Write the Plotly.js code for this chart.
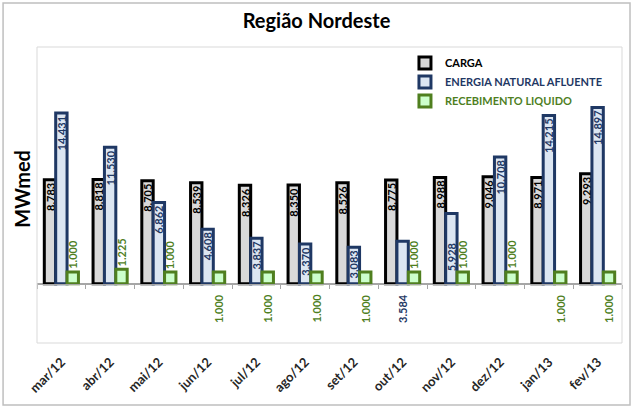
<!DOCTYPE html>
<html>
<head>
<meta charset="utf-8">
<script src="https://cdn.plot.ly/plotly-3.0.1.min.js"></script>
<style>
  body { margin: 0; background: #fff; }
  #chart { width: 633px; height: 410px; }
</style>
</head>
<body>
<div id="chart"></div>
<script>
let months = ['mar/12','abr/12','mai/12','jun/12','jul/12','ago/12','set/12','out/12','nov/12','dez/12','jan/13','fev/13']
let carga  = [8783, 8818, 8705, 8539, 8326, 8350, 8526, 8775, 8988, 9046, 8971, 9293]
let ena    = [14431, 11530, 6862, 4608, 3837, 3370, 3083, 3584, 5928, 10708, 14215, 14897]
let receb  = [1000, 1225, 1000, 1000, 1000, 1000, 1000, 1000, 1000, 1000, 1000, 1000]

// where the labels sit in the original (excel moved some of them around)
let recebLabelPos = ['above','above','above','below','below','below','below','above','above','above','below','below']
let enaLabelPos   = ['top','top','top','top','top','top','top','below','base','top','top','top']

let font = 'Lato, "Open Sans", sans-serif'
let cBlack = '#000000', cBlue = '#1f3864', cGreen = '#4f7f1f'

let fmt = v => v.toLocaleString('de-DE')

let traceCarga = {
  x: months, y: carga, type: 'bar',
  name: '<span style="color:' + cBlack + '">CARGA</span>',
  marker: {color: '#d9d9d9', line: {color: cBlack, width: 3}},
  texttemplate: '%{y:,.0f}', textposition: 'inside', insidetextanchor: 'end',
  textangle: -90, constraintext: 'none',
  insidetextfont: {family: font, size: 11, color: cBlack, weight: 'bold'},
  hoverinfo: 'skip'
}

let traceEna = {
  x: months, y: ena, type: 'bar',
  name: '<span style="color:' + cBlue + '">ENERGIA NATURAL AFLUENTE</span>',
  marker: {color: '#dce6f2', line: {color: cBlue, width: 3}},
  texttemplate: '%{y:,.0f}',
  textposition: enaLabelPos.map(p => p == 'top' ? 'inside' : 'none'),
  insidetextanchor: 'end', textangle: -90, constraintext: 'none',
  insidetextfont: {family: font, size: 11, color: cBlue, weight: 'bold'},
  hoverinfo: 'skip'
}

let traceReceb = {
  x: months, y: receb, type: 'bar',
  name: '<span style="color:' + cGreen + '">RECEBIMENTO LIQUIDO</span>',
  marker: {color: '#ccffcc', line: {color: cGreen, width: 3}},
  textposition: 'none',
  hoverinfo: 'skip'
}

// empty trace so the zero-line tick axis gets drawn
let traceTicks = {x: [], y: [], type: 'scatter', xaxis: 'x2', showlegend: false, hoverinfo: 'skip'}

// labels that can't be done with bar text
let annotations = []
for (let i = 0; i < months.length; i++) {
  let a = {
    x: months[i], xshift: 11, textangle: -90, showarrow: false, borderpad: 0,
    text: fmt(receb[i]), font: {family: font, size: 11, color: cGreen, weight: 'bold'}
  }
  if (recebLabelPos[i] == 'above') {
    a.y = receb[i]; a.yanchor = 'bottom'; a.yshift = 2
  } else {
    a.y = 0; a.yanchor = 'top'; a.yshift = -9
  }
  annotations.push(a)

  if (enaLabelPos[i] == 'below' || enaLabelPos[i] == 'base') {
    let b = {
      x: months[i], textangle: -90, showarrow: false, borderpad: 0,
      text: fmt(ena[i]), font: {family: font, size: 11, color: cBlue, weight: 'bold'},
      y: 0
    }
    if (enaLabelPos[i] == 'below') { b.yanchor = 'top'; b.yshift = -9 }
    else { b.yanchor = 'bottom'; b.yshift = 12 }
    annotations.push(b)
  }
}

annotations.push({
  text: 'MWmed', xref: 'paper', yref: 'paper', x: -0.026, y: 0.52,
  xanchor: 'center', yanchor: 'middle',
  textangle: -90, showarrow: false,
  font: {family: font, size: 20, color: '#000', weight: 'bold'}
})

// tick marks sitting on the zero line
let bounds = [-0.5]
for (let i = 0; i < months.length; i++) bounds.push(i + 0.5)

let layout = {
  width: 633, height: 410,
  margin: {l: 37, r: 11, t: 47, b: 67},
  paper_bgcolor: '#fff', plot_bgcolor: '#fff',
  separators: ',.',
  title: {
    text: 'Região Nordeste', x: 0.5, xref: 'container', y: 0.95, yref: 'container', yanchor: 'middle',
    font: {family: font, size: 20, color: '#000', weight: 'bold'}
  },
  barmode: 'group', bargap: 0.3, bargroupgap: 0,
  xaxis: {
    type: 'category', showgrid: false, zeroline: false, showline: false, ticks: '',
    tickangle: -45, fixedrange: true, ticklabelstandoff: 8,
    tickfont: {family: font, size: 13, color: '#262626', weight: 'bold'}
  },
  xaxis2: {
    overlaying: 'x', anchor: 'free', position: 59 / 296,
    range: [-0.5, months.length - 0.5], tickmode: 'array', tickvals: bounds,
    showticklabels: false, ticks: 'outside', ticklen: 4, tickcolor: '#a6a6a6',
    showline: true, linecolor: '#a6a6a6', linewidth: 1, showgrid: false, zeroline: false
  },
  yaxis: {
    range: [-5000, 20000], showgrid: false, showticklabels: false, ticks: '',
    zeroline: true, zerolinecolor: '#a6a6a6', zerolinewidth: 1, showline: false
  },
  legend: {
    x: 0.629, y: 0.995, xanchor: 'left', yanchor: 'top',
    bgcolor: 'rgba(0,0,0,0)', tracegroupgap: 0,
    font: {family: font, size: 11, weight: 'bold'}
  },
  annotations: annotations,
  shapes: [
    {type: 'rect', xref: 'paper', yref: 'paper', x0: 0, x1: 1, y0: 0, y1: 1,
     line: {color: '#d9d9d9', width: 1}},
    {type: 'rect', xref: 'paper', yref: 'paper', x0: -0.058, x1: 1.0137, y0: -0.2095, y1: 1.1486,
     line: {color: '#bfbfbf', width: 1.5}}
  ],
  showlegend: true
}

Plotly.newPlot('chart', [traceCarga, traceEna, traceReceb, traceTicks], layout, {displayModeBar: false, staticPlot: true})
</script>
</body>
</html>
